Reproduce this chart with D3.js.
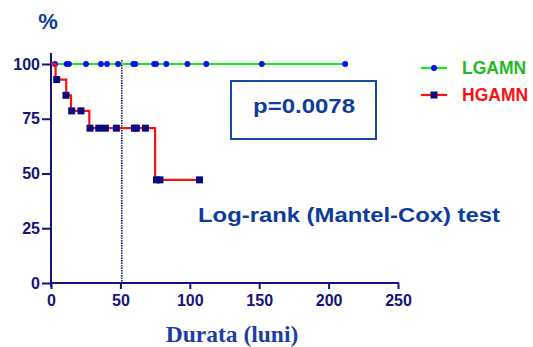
<!DOCTYPE html>
<html><head><meta charset="utf-8">
<script src="https://cdn.jsdelivr.net/npm/d3@7"></script>
<style>html,body{margin:0;padding:0;background:#fff;}svg{display:block;}</style>
</head><body>
<svg id="c" width="533" height="347"></svg>
<script>
// ---- data ----
const xTicks = [0, 50, 100, 150, 200, 250];
const yTicks = [0, 25, 50, 75, 100];
const seriesNames = ["LGAMN", "HGAMN"];
// LGAMN: no events, survival stays 100 up to last follow-up
const lgEnd = 212;
const lgCensorTimes = [2.9, 11.3, 12.9, 25.2, 36, 40.4, 48.3, 59.3, 60.8, 74.3, 75.7, 83.1, 98.3, 111.9, 151.9, 211.9];
// HGAMN: step function (time of drop, survival after drop)
const hgStepTimes = [0, 3.3, 11, 14.4, 27.6, 75];
const hgStepSurv = [100, 92.9, 85.7, 78.6, 70.7, 47.1];
const hgEnd = 107;
const hgCensorTimes = [4.1, 10.8, 14.9, 21.6, 28.1, 34.4, 39.2, 47.1, 60.1, 61.5, 68, 76, 78.5, 107];
const hgCensorSurv = [92.9, 85.7, 78.6, 78.6, 70.7, 70.7, 70.7, 70.7, 70.7, 70.7, 70.7, 47.1, 47.1, 47.1];
const medianLine = 51;
const pText = "p=0.0078";
const testText = "Log-rank (Mantel-Cox) test";
const xTitle = "Durata (luni)";
const yTitle = "%";

// ---- chart ----
const svg = d3.select("#c");
const navy = "#14147a";
const x = d3.scaleLinear().domain([0, 250]).range([51, 398]);
const y = d3.scaleLinear().domain([0, 100]).range([283, 64]);

// axes
const xAxis = svg.append("g").attr("transform", "translate(0,283)")
  .call(d3.axisBottom(x).tickValues(xTicks).tickSize(6).tickSizeOuter(0).tickPadding(6));
const yAxis = svg.append("g").attr("transform", "translate(51,0)")
  .call(d3.axisLeft(y).tickValues(yTicks).tickSize(9).tickSizeOuter(0).tickPadding(2));
[xAxis, yAxis].forEach(g => {
  g.selectAll("path,line").attr("stroke", navy).attr("stroke-width", 2);
  g.selectAll("text").attr("fill", navy).style("font", "bold 16px 'Liberation Sans', Arial, sans-serif");
});
yAxis.select("path.domain").attr("d", "M0,53V287");
xAxis.select("path.domain").attr("d", `M${x(0)-1},0H${x(250)+1}`);

// median dotted line
svg.append("line").attr("x1", x(medianLine)).attr("x2", x(medianLine))
  .attr("y1", 60).attr("y2", 283).attr("stroke", navy).attr("stroke-width", 1.5)
  .attr("stroke-dasharray", "1.5,1");

// LGAMN line
svg.append("path").attr("d", d3.line()([[x(0), y(100)], [x(lgEnd), y(100)]]))
  .attr("stroke", "#11ee11").attr("stroke-width", 2.2).attr("fill", "none");
svg.selectAll(".lg").data(lgCensorTimes).enter().append("circle")
  .attr("cx", d => x(d)).attr("cy", y(100)).attr("r", 3).attr("fill", "#1010ee");

// HGAMN step line
const hgPts = [];
hgStepTimes.forEach((t, i) => {
  if (i > 0) hgPts.push([x(t), y(hgStepSurv[i - 1])]);
  hgPts.push([x(t), y(hgStepSurv[i])]);
});
hgPts.push([x(hgEnd), y(hgStepSurv[hgStepSurv.length - 1])]);
svg.append("path").attr("d", d3.line()(hgPts))
  .attr("stroke", "#ff1010").attr("stroke-width", 2.2).attr("fill", "none");
svg.selectAll(".hg").data(hgCensorTimes).enter().append("rect")
  .attr("x", d => x(d) - 3.5).attr("y", (d, i) => y(hgCensorSurv[i]) - 3.5)
  .attr("width", 7).attr("height", 7).attr("fill", "#0a0a80");

// legend
const legY = [68, 95];
const legCol = ["#11ee11", "#ff1010"];
const legTxt = ["#22bb22", "#ff1010"];
seriesNames.forEach((n, i) => {
  svg.append("line").attr("x1", 421).attr("x2", 447).attr("y1", legY[i]).attr("y2", legY[i])
    .attr("stroke", legCol[i]).attr("stroke-width", 2.2);
  if (i === 0) svg.append("circle").attr("cx", 434).attr("cy", legY[i]).attr("r", 3).attr("fill", "#1010ee");
  else svg.append("rect").attr("x", 430.5).attr("y", legY[i] - 3.5).attr("width", 7).attr("height", 7).attr("fill", "#0a0a80");
  svg.append("text").attr("x", 462).attr("y", legY[i] + 6).text(n)
    .attr("fill", legTxt[i]).style("font", "bold 17.5px 'Liberation Sans', Arial, sans-serif");
});

// p-value box
const blue = "#0e3c9c";
svg.append("rect").attr("x", 231).attr("y", 81).attr("width", 145).attr("height", 58)
  .attr("fill", "none").attr("stroke", "#1a48a8").attr("stroke-width", 2);
svg.append("text").attr("x", 304).attr("y", 113).attr("text-anchor", "middle").text(pText)
  .attr("fill", blue).style("font", "bold 21px 'Liberation Sans', Arial, sans-serif")
  .attr("textLength", 102).attr("lengthAdjust", "spacingAndGlyphs");
svg.append("text").attr("x", 198).attr("y", 222).text(testText)
  .attr("fill", blue).style("font", "bold 20px 'Liberation Sans', Arial, sans-serif")
  .attr("textLength", 302).attr("lengthAdjust", "spacingAndGlyphs");

// titles
svg.append("text").attr("x", 48).attr("y", 29).attr("text-anchor", "middle").text(yTitle)
  .attr("fill", blue).style("font", "bold 22px 'Liberation Sans', Arial, sans-serif");
svg.append("text").attr("x", 232).attr("y", 342).attr("text-anchor", "middle").text(xTitle)
  .attr("fill", "#1a3fa8").style("font", "bold 23.5px 'Liberation Serif', 'Times New Roman', serif");
</script>
</body></html>
